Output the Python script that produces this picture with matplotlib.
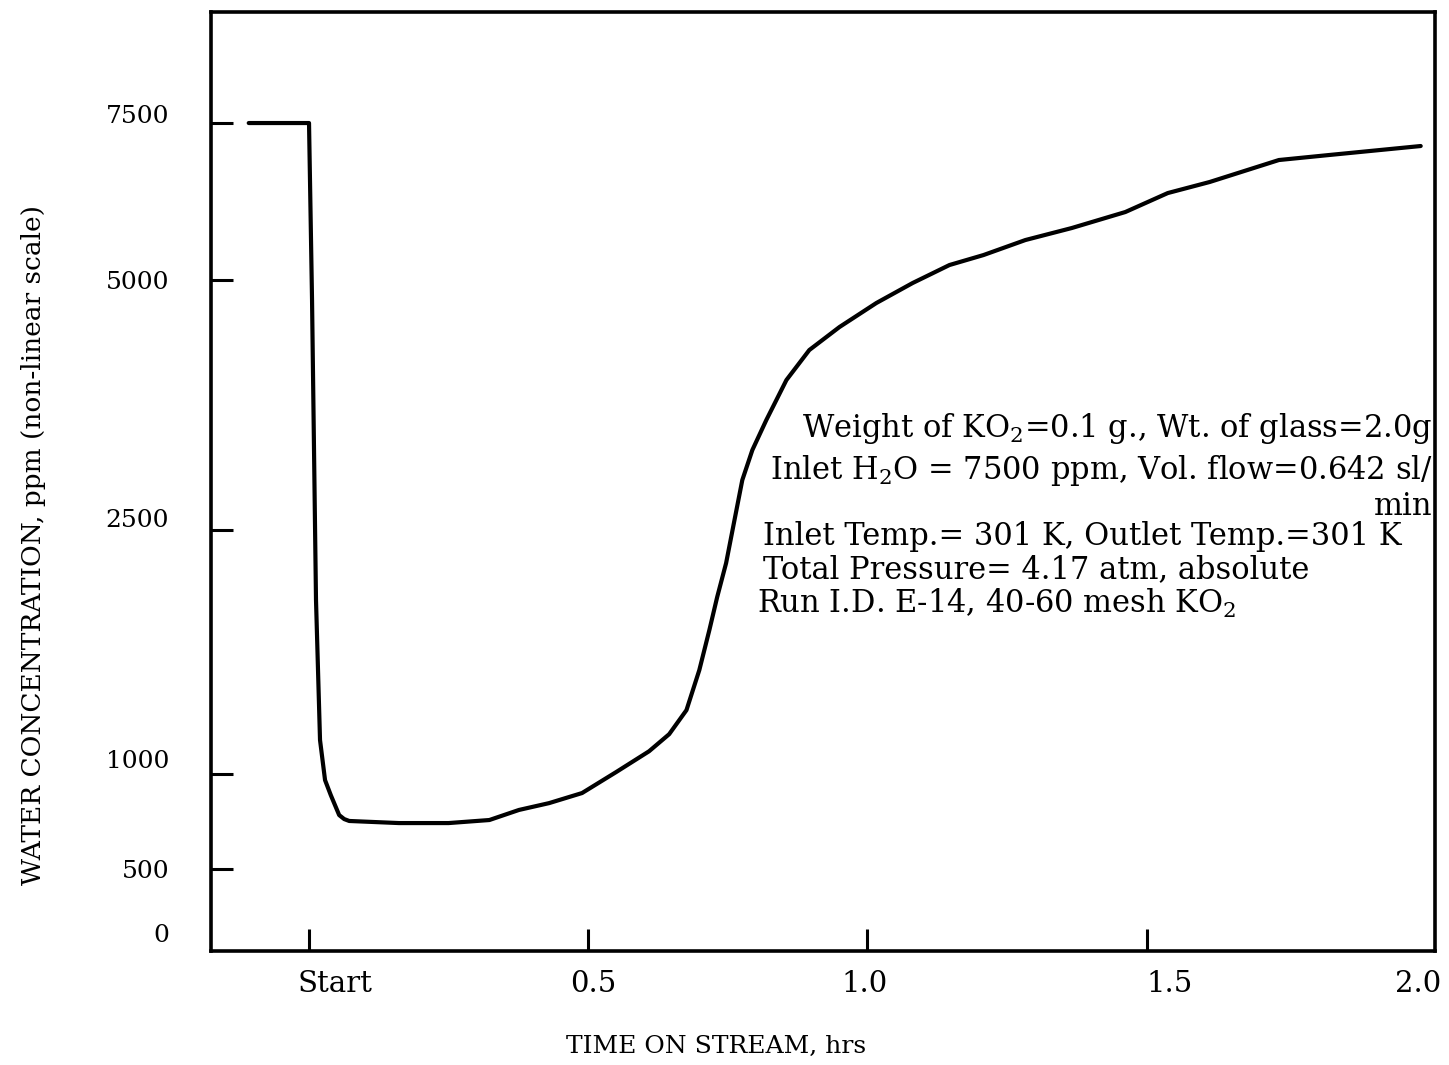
import numpy as np
import matplotlib
matplotlib.use("Agg")
import matplotlib.pyplot as plt
from matplotlib.transforms import ScaledTranslation

plt.rcParams['font.family'] = ['DejaVu Serif']
plt.rcParams['mathtext.fontset'] = 'dejavuserif'

# time on stream (hrs) and water concentration (ppm)
time_hrs = [-0.108, 0.0, 0.0054, 0.0125, 0.0197, 0.0287, 0.039, 0.054, 0.063,
            0.072, 0.161, 0.25, 0.323, 0.376, 0.430, 0.489, 0.550, 0.609,
            0.645, 0.676, 0.699, 0.717, 0.731, 0.747, 0.762, 0.776, 0.794,
            0.819, 0.855, 0.896, 0.950, 1.016, 1.081, 1.147, 1.208, 1.283,
            1.366, 1.462, 1.538, 1.613, 1.737, 1.826, 1.991]
water_ppm = [7500, 7500, 4800, 2070, 1209, 968, 889, 784, 763,
             753, 742, 742, 758, 811, 847, 900, 1012, 1140,
             1245, 1393, 1639, 1885, 2088, 2297, 2600, 3000, 3300,
             3600, 4000, 4300, 4530, 4770, 4970, 5239, 5398, 5637,
             5828, 6083, 6385, 6561, 6911, 6990, 7134]

y_ticks = [0, 500, 1000, 2500, 5000, 7500]
y_tick_labels = ["0", "500", "1000", "2500", "5000", "7500"]
x_ticks = [0.0, 0.5, 1.0, 1.5, 2.0]
x_tick_labels = ["Start", "0.5", "1.0", "1.5", "2.0"]

# non-linear ppm scale: piecewise linear between the printed ticks
ppm_knots = np.array([-1000, 0, 500, 1000, 2500, 5000, 7500, 12500])
pos_knots = np.array([18 - 128, 18, 82, 177, 421, 671, 828, 828 + 314], dtype=float)


def fwd(v):
    return np.interp(v, ppm_knots, pos_knots)


def inv(p):
    return np.interp(p, pos_knots, ppm_knots)


fig = plt.figure(figsize=(14.49, 10.65), dpi=100)
ax = fig.add_axes([0.1456, 0.107, 0.8447, 0.8817])
ax.set_yscale('function', functions=(fwd, inv))

ax.plot(time_hrs, water_ppm, color='black', lw=3, solid_capstyle='round',
        solid_joinstyle='round')

ax.set_xlim(-0.1756, 2.0165)
ax.set_ylim(inv(0), inv(939))

ax.set_yticks(y_ticks)
ax.set_yticklabels(y_tick_labels)
ax.set_xticks(x_ticks)
ax.set_xticklabels(x_tick_labels)
ax.minorticks_off()

ax.tick_params(axis='both', direction='in', length=16, width=2.2)
ax.tick_params(axis='y', pad=30, labelsize=18)
ax.tick_params(axis='x', pad=14, labelsize=21)
ax.yaxis.get_major_ticks()[0].tick1line.set_visible(False)
ax.xaxis.get_major_ticks()[-1].tick1line.set_visible(False)

# the typed labels sit a little off their tick marks in the original
x_shift = [26, 5, -3, 23, -8]
for lab, dx in zip(ax.get_xticklabels(), x_shift):
    lab.set_transform(lab.get_transform() + ScaledTranslation(dx / 100, 0, fig.dpi_scale_trans))
y_shift = [0, 0, 15, 12, 0, 9]
for lab, dy in zip(ax.get_yticklabels(), y_shift):
    lab.set_transform(lab.get_transform() + ScaledTranslation(0, dy / 100, fig.dpi_scale_trans))

for s in ax.spines.values():
    s.set_linewidth(2.6)

ax.set_xlabel("TIME ON STREAM, hrs", fontsize=18)
ax.xaxis.set_label_coords(0.413, -0.089)
ax.set_ylabel("WATER CONCENTRATION, ppm (non-linear scale)", fontsize=19)
ax.yaxis.set_label_coords(-0.135, 0.432)

txt = dict(transform=ax.transAxes, fontsize=22, color='black')
ax.text(0.998, 0.556, r"Weight of KO$_2$=0.1 g., Wt. of glass=2.0g", ha='right', va='center', **txt)
ax.text(0.998, 0.512, r"Inlet H$_2$O = 7500 ppm, Vol. flow=0.642 sl/", ha='right', va='center', **txt)
ax.text(0.998, 0.473, "min", ha='right', va='center', **txt)
ax.text(0.451, 0.441, "Inlet Temp.= 301 K, Outlet Temp.=301 K", ha='left', va='center', **txt)
ax.text(0.451, 0.406, "Total Pressure= 4.17 atm, absolute", ha='left', va='center', **txt)
ax.text(0.446, 0.370, r"Run I.D. E-14, 40-60 mesh KO$_2$", ha='left', va='center', **txt)

fig.savefig("out.png", dpi=100)
